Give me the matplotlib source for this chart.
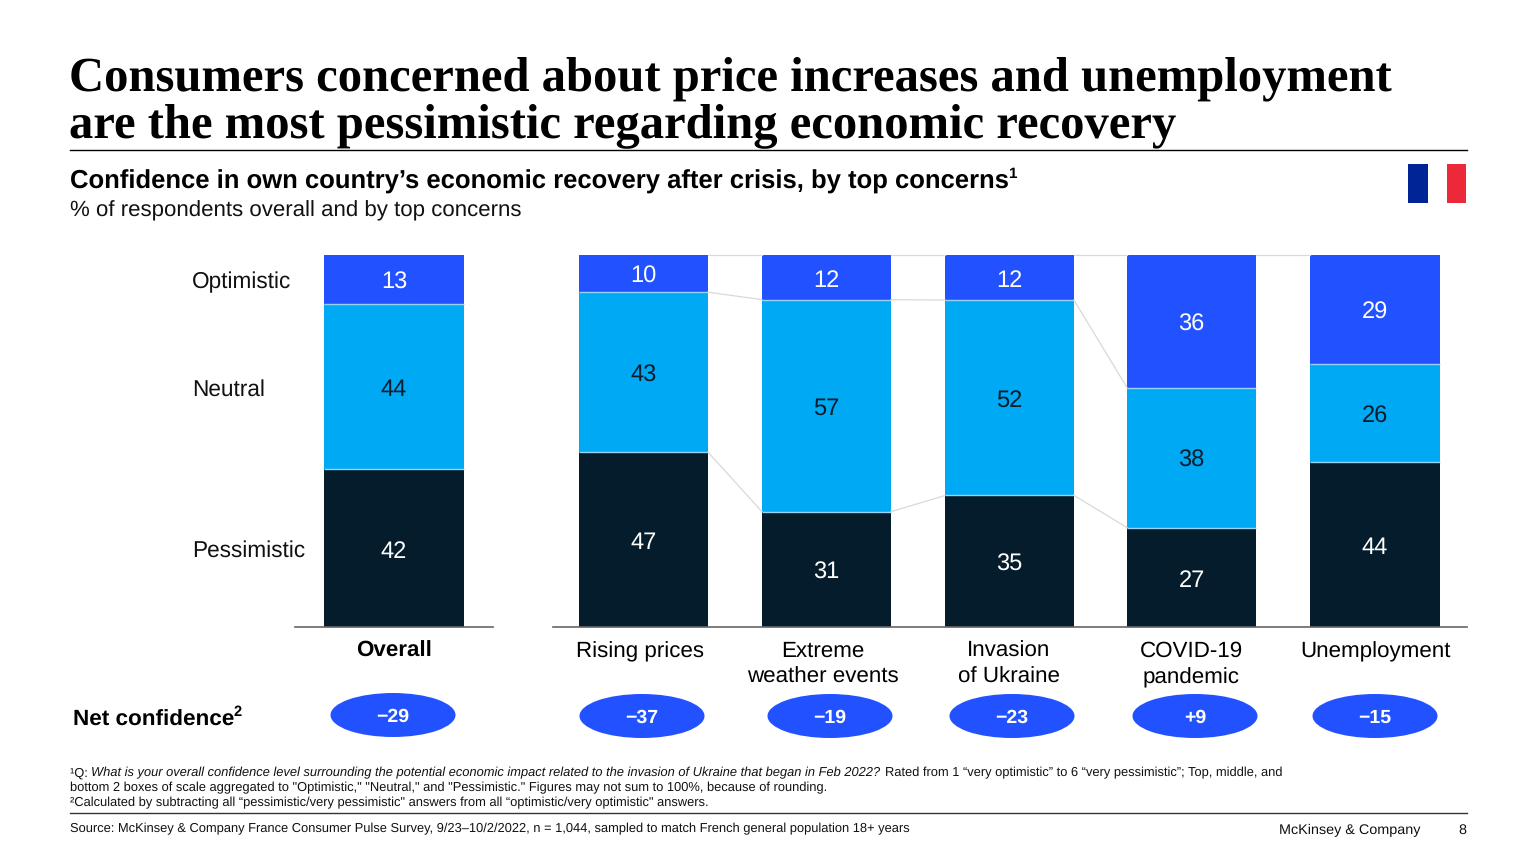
import matplotlib

matplotlib.use("Agg")
import matplotlib.pyplot as plt
from matplotlib.patches import Ellipse, Rectangle
import numpy as np

plt.rcParams["font.family"] = ["Liberation Sans", "DejaVu Sans"]
plt.rcParams["text.hinting"] = "no_hinting"

W, H = 1536, 864
BLUE = "#2251ff"
CYAN = "#00a9f4"
NAVY = "#051c2c"

categories = ["Overall", "Rising prices", "Extreme\nweather events", "Invasion\nof Ukraine",
              "COVID-19\npandemic", "Unemployment"]
pessimistic = np.array([42, 47, 31, 35, 27, 44])
neutral = np.array([44, 43, 57, 52, 38, 26])
optimistic = np.array([13, 10, 12, 12, 36, 29])
net_confidence = ["\u221229", "\u221237", "\u221219", "\u221223", "+9", "\u221215"]
row_labels = ["Pessimistic", "Neutral", "Optimistic"]

# pixel layout of the slide
bar_left = [324, 579, 762, 945, 1127, 1310]
bar_width = [140, 129, 129, 129, 129, 130]
cat_x = [394, 640, 823, 1009, 1191, 1375]
pill_x = [393, 642, 830, 1012, 1195, 1375]
pill_y = [715, 716, 716, 716, 716, 716]
row_y = [551, 390, 282]

fig = plt.figure(figsize=(W / 100, H / 100), dpi=100, facecolor="white")

# bars: x in slide pixels, y in % of stack
ax = fig.add_axes([0, 1 - 627 / H, 1, (627 - 255) / H])
ax.set_xlim(0, W)
ax.set_ylim(0, 100)
ax.axis("off")

total = pessimistic + neutral + optimistic
p_h = pessimistic / total * 100
n_h = neutral / total * 100
o_h = optimistic / total * 100
left = np.array(bar_left)
width = np.array(bar_width)

ax.bar(left, p_h, width, align="edge", color=NAVY, linewidth=0)
ax.bar(left, n_h, width, bottom=p_h, align="edge", color=CYAN, linewidth=0)
ax.bar(left, o_h, width, bottom=p_h + n_h, align="edge", color=BLUE, linewidth=0)

# thin light seams between the segments
ax.hlines(p_h, left, left + width, color="#9ad4f5", lw=1.0)
ax.hlines(p_h + n_h, left, left + width, color="#9ad4f5", lw=1.0)

# connectors between the concern bars, the last gap only has the top one
for i in range(1, len(left) - 1):
    x0, x1 = left[i] + width[i], left[i + 1]
    ax.plot([x0, x1], [100, 100], color="#d9d9d9", lw=0.9, clip_on=False)
    if i == len(left) - 2:
        continue
    for lev in (p_h, p_h + n_h):
        ax.plot([x0, x1], [lev[i], lev[i + 1]], color="#d9d9d9", lw=0.9, clip_on=False)

num_shift = -0.9  # figures sit a little under the segment centre
for i in range(len(left)):
    cx = left[i] + width[i] / 2
    ax.text(cx, p_h[i] / 2 + num_shift, str(pessimistic[i]), color="white", fontsize=17,
            ha="center", va="center")
    ax.text(cx, p_h[i] + n_h[i] / 2 + num_shift, str(neutral[i]), color="#051c2c", fontsize=17,
            ha="center", va="center")
    ax.text(cx, p_h[i] + n_h[i] + o_h[i] / 2 + num_shift, str(optimistic[i]), color="white", fontsize=17,
            ha="center", va="center")

# everything else in slide pixels
ov = fig.add_axes([0, 0, 1, 1], facecolor="none")
ov.set_xlim(0, W)
ov.set_ylim(H, 0)
ov.axis("off")

ov.text(69, 79, "Consumers concerned about price increases and unemployment",
        family="Liberation Serif", weight="bold", fontsize=35, va="center", color="black")
ov.text(69, 126, "are the most pessimistic regarding economic recovery",
        family="Liberation Serif", weight="bold", fontsize=35, va="center", color="black")
ov.plot([70, 1467], [150, 150], color="black", lw=1)

ov.text(70, 182, "Confidence in own country\u2019s economic recovery after crisis, by top concerns",
        weight="bold", fontsize=18.43, va="center", color="black")
ov.text(1008, 174, "1", weight="bold", fontsize=11, va="center", color="black")
ov.text(70, 211, "% of respondents overall and by top concerns", fontsize=16.05, va="center", color="#111111")

# flag
ov.add_patch(Rectangle((1408, 164), 19.5, 39, color="#002395", lw=0))
ov.add_patch(Rectangle((1446.5, 164), 19.5, 39, color="#ed2939", lw=0))

for label, y in zip(row_labels, row_y):
    ov.text(192, y, label, fontsize=16.3, va="center", color="#111111")

ov.plot([295, 493], [627, 627], color="#666666", lw=1.2)
ov.plot([553, 1467], [627, 627], color="#666666", lw=1.2)

for i, (name, x) in enumerate(zip(categories, cat_x)):
    ov.text(x, 641, name, fontsize=16.1, ha="center", va="top", linespacing=1.36,
            weight="bold" if i == 0 else "normal", color="black")

ov.text(73, 720, "Net confidence", weight="bold", fontsize=16.2, va="center", color="black")
ov.text(233.5, 712, "2", weight="bold", fontsize=10.5, va="center", color="black")
for x, y, txt in zip(pill_x, pill_y, net_confidence):
    ov.add_patch(Ellipse((x, y), 125, 44, color=BLUE, lw=0))
    ov.text(x, y + 2, txt, color="white", weight="bold", fontsize=14, ha="center", va="center")

# footnotes
note_size = 9.25
ov.text(70, 773, "\u00b9Q: ", fontsize=note_size, va="center", color="#111111")
ov.text(91, 773, "What is your overall confidence level surrounding the potential economic impact "
        "related to the invasion of Ukraine that began in Feb 2022?",
        style="italic", fontsize=note_size, va="center", color="#111111")
ov.text(885, 773, "Rated from 1 \u201cvery optimistic\u201d to 6 \u201cvery pessimistic\u201d; Top, middle, and",
        fontsize=note_size, va="center", color="#111111")
ov.text(70, 788, "bottom 2 boxes of scale aggregated to \"Optimistic,\" \"Neutral,\" and \"Pessimistic.\" "
        "Figures may not sum to 100%, because of rounding.",
        fontsize=note_size, va="center", color="#111111")
ov.text(70, 803, "\u00b2Calculated by subtracting all \u201cpessimistic/very pessimistic\" answers from all "
        "\u201coptimistic/very optimistic\" answers.", fontsize=note_size, va="center", color="#111111")

ov.plot([70, 1467], [813, 813], color="#333333", lw=1)
ov.text(70, 829, "Source: McKinsey & Company France Consumer Pulse Survey, 9/23\u201310/2/2022, n = 1,044, "
        "sampled to match French general population 18+ years",
        fontsize=note_size, va="center", color="#111111")
ov.text(1420, 830, "McKinsey & Company", fontsize=10.4, ha="right", va="center", color="#111111")
ov.text(1466, 830, "8", fontsize=10.4, ha="right", va="center", color="#111111")

fig.savefig("out.png", dpi=100)
